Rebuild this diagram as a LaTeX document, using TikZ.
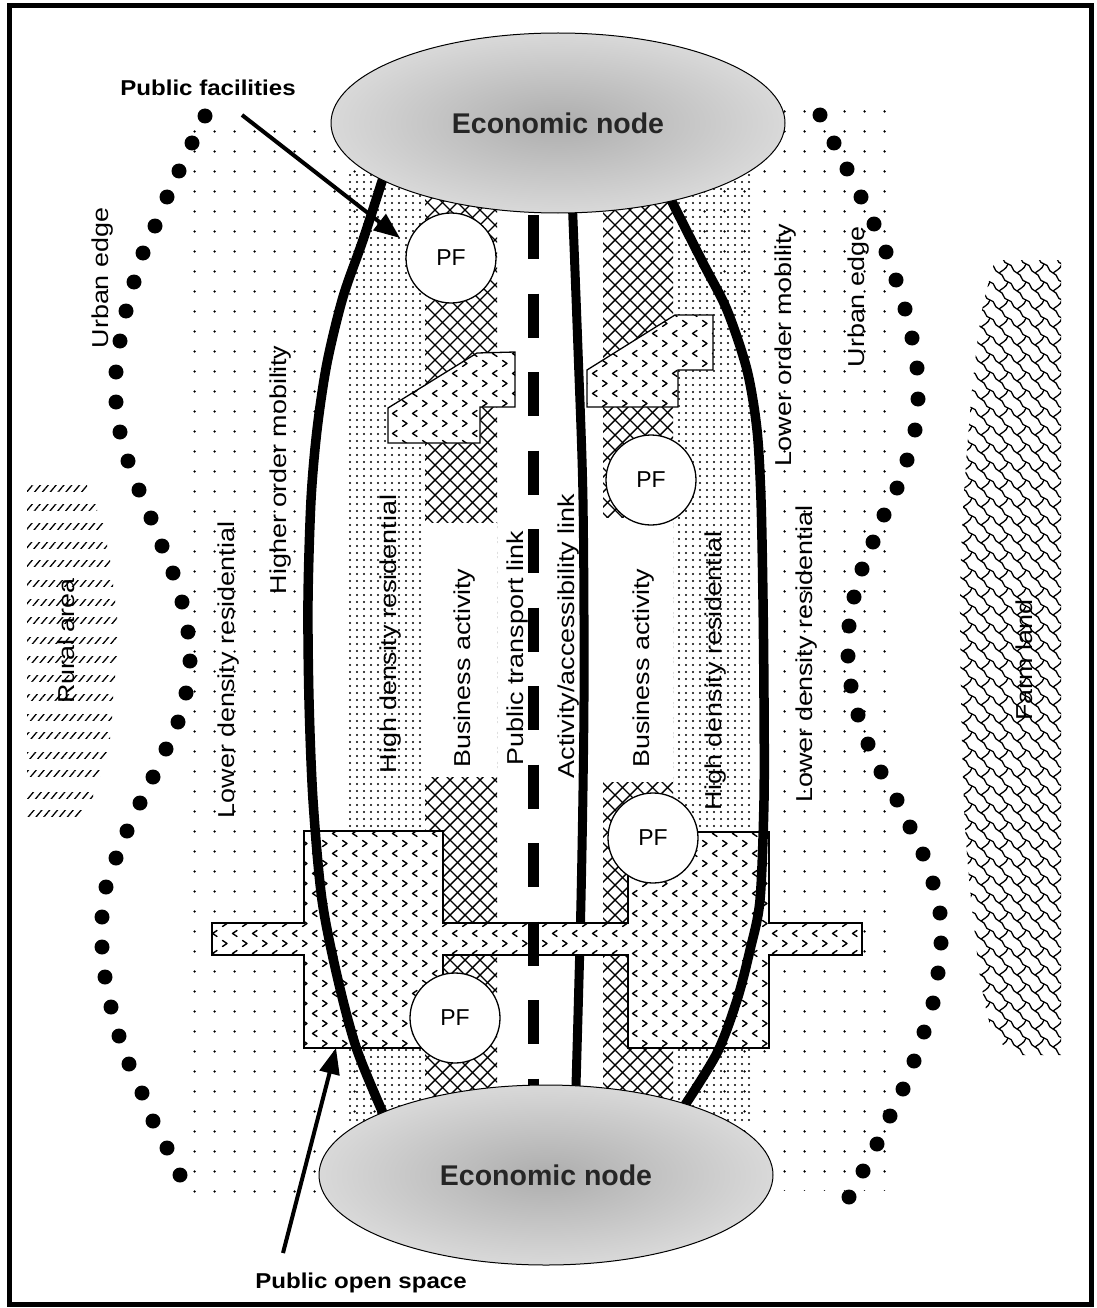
\documentclass[tikz,border=0pt]{standalone}
\usepackage{fontspec}
\setmainfont{Liberation Sans}
\newfontfamily\lab[FakeStretch=1.17]{Liberation Sans}
\newfontfamily\labb[FakeStretch=1.12]{Liberation Sans}
\usetikzlibrary{patterns,patterns.meta,arrows.meta,shapes.geometric}

\pgfdeclarepatternformonly{chev}{\pgfqpoint{-1pt}{-1pt}}{\pgfqpoint{21pt}{21pt}}{\pgfqpoint{20pt}{20pt}}{%
  \pgfsetlinewidth{1.4pt}\pgfsetroundcap\pgfsetroundjoin
  \pgfpathmoveto{\pgfqpoint{2.5pt}{1.5pt}}\pgfpathlineto{\pgfqpoint{7pt}{4.5pt}}\pgfpathlineto{\pgfqpoint{2.5pt}{7.5pt}}
  \pgfpathmoveto{\pgfqpoint{17pt}{11.5pt}}\pgfpathlineto{\pgfqpoint{12.5pt}{14.5pt}}\pgfpathlineto{\pgfqpoint{17pt}{17.5pt}}
  \pgfusepath{stroke}}

\pgfdeclarepatternformonly{farm}{\pgfqpoint{-1pt}{-1pt}}{\pgfqpoint{19pt}{19pt}}{\pgfqpoint{18pt}{18pt}}{%
  \pgfsetlinewidth{1.3pt}
  \pgfpathmoveto{\pgfqpoint{0pt}{18pt}}
  \pgfpathcurveto{\pgfqpoint{6pt}{17pt}}{\pgfqpoint{3pt}{11pt}}{\pgfqpoint{9pt}{9pt}}
  \pgfpathcurveto{\pgfqpoint{15pt}{7pt}}{\pgfqpoint{12pt}{1pt}}{\pgfqpoint{18pt}{0pt}}
  \pgfpathmoveto{\pgfqpoint{9pt}{9pt}}
  \pgfpathcurveto{\pgfqpoint{12pt}{12pt}}{\pgfqpoint{16pt}{12pt}}{\pgfqpoint{18pt}{18pt}}
  \pgfusepath{stroke}}

\tikzset{
  sparse/.style={pattern={Dots[distance=19.5pt,radius=1.3pt]}},
  dense/.style={pattern={Dots[distance=6.5pt,radius=1.3pt]}},
  hatchline/.style={line width=1.4pt},
  openspace/.style={fill=white,postaction={pattern=chev},draw=black,line width=1.3pt},
  thickcurve/.style={line width=9.5pt},
  lbl/.style={rotate=90,inner sep=0pt,font=\lab\fontsize{23}{23}\selectfont},
  pf/.style={circle,draw=black,fill=white,line width=1.3pt,minimum size=90pt,inner sep=0pt,font=\fontsize{23}{23}\selectfont},
  econ/.style={ellipse,draw=black,line width=1pt,inner color=black!32,outer color=black!15,
     minimum width=454pt,minimum height=180pt,font=\bfseries\fontsize{28.5}{28.5}\selectfont,text=black!85},
  callout/.style={inner sep=0pt,font=\labb\bfseries\fontsize{21.5}{21.5}\selectfont},
  arr/.style={line width=4pt,-{Triangle[length=26pt,width=20pt]}},
  bigdot/.style={fill=black}
}

\begin{document}
\begin{tikzpicture}[x=1pt,y=-1pt]
\useasboundingbox (0,0) rectangle (1096,1308);
\fill[white] (0,0) rectangle (1096,1308);

% lower density residential (sparse dots)
\fill[sparse] (190,123) rectangle (560,1207);
\fill[sparse] (560,107) rectangle (887,1190);

% white lens between the mobility curves
\fill[white] plot[smooth] coordinates {(384,175) (363,240) (343,297) (327,363) (317,430) (311,500) (308,600) (309,700) (313,800) (322,900) (338,980) (357,1050) (386,1120)}
  -- plot[smooth] coordinates {(683,1108) (717,1053) (737,1000) (750,950) (760,900) (764,800) (764,700) (763,600) (761,500) (757,430) (747,370) (727,310) (703,263) (667,192)} -- cycle;

% high density residential (dense dots)
\fill[dense] (349,175) rectangle (751,1125);
% central white strip
\fill[white] (497,180) rectangle (603,1120);
% business activity hatch columns
\fill[white] (425,180) rectangle (497,1118);
\fill[white] (603,180) rectangle (673,1115);
\begin{scope}
  \clip (425,180) rectangle (497,1118) (603,180) rectangle (673,1115);
  \foreach \c in {-720,-705,...,495}
    \draw[hatchline] (\c+180,180) -- (\c+1120,1120);
  \foreach \c in {600,615,...,1800}
    \draw[hatchline] (\c-180,180) -- (\c-1120,1120);
\end{scope}
% business activity white blocks
\fill[white] (425,523) rectangle (497,777);
\fill[white] (603,518) rectangle (673,782);

% activity / accessibility link
\draw[line width=9pt] plot[smooth] coordinates {(572,195) (578,350) (583,500) (584,700) (581,900) (575,1120)};

% public open spaces
\draw[openspace] (388,408) -- (477,353) -- (515,352) -- (515,407) -- (480,407) -- (480,443) -- (388,443) -- cycle;
\draw[openspace] (587,370) -- (675,315) -- (713,315) -- (713,370) -- (678,370) -- (678,407) -- (587,407) -- cycle;
\draw[openspace] (212,923) -- (304,923) -- (304,831) -- (443,831) -- (443,923) -- (628,923) -- (628,832) -- (769,832)
  -- (769,923) -- (862,923) -- (862,955) -- (769,955) -- (769,1048) -- (628,1048) -- (628,955) -- (443,955)
  -- (443,1048) -- (304,1048) -- (304,955) -- (212,955) -- cycle;

% public transport link
\draw[line width=11pt,dash pattern=on 44pt off 34.5pt] (533,215) -- (533,1125);

% mobility curves
\draw[thickcurve] plot[smooth] coordinates {(384,175) (363,240) (343,297) (327,363) (317,430) (311,500) (308,600) (309,700) (313,800) (322,900) (338,980) (357,1050) (386,1120)};
\draw[thickcurve] plot[smooth] coordinates {(683,1108) (717,1053) (737,1000) (750,950) (760,900) (764,800) (764,700) (763,600) (761,500) (757,430) (747,370) (727,310) (703,263) (667,192)};

% public facilities
\node[pf] (pf1) at (451,258) {PF};
\node[pf] (pf2) at (651,480) {PF};
\node[pf] (pf3) at (653,838) {PF};
\node[pf] (pf4) at (455,1018) {PF};

% economic nodes
\node[econ] (en1) at (558,123) {Economic node};
\node[econ] (en2) at (546,1175) {Economic node};

% rural area
\foreach \yy/\xr in {488/87,507/97,526/103,545/107,563/110,583/113,602/115,620/117,640/117,659/117,678/115,697/113,717/112,735/110,755/107,773/100,795/93,813/82}
  \fill[pattern={Lines[angle=50,distance=6pt,line width=1.3pt]}] (27,\yy-3) rectangle (\xr,\yy+3);

% farm land
\fill[pattern=farm] plot[smooth] coordinates {(995,260) (982,310) (973,380) (966,463) (962,530) (960,600) (961,700) (964,807) (968,867) (974,927) (981,983) (992,1030) (1013,1055)} -- (1061,1055) -- (1061,260) -- cycle;

% urban edge dots
\foreach \p in {(205,116),(192,143),(179,171),(167,197),(155,226),(143,253),(134,282),(126,311),(120,341),(116,372),(116,402),(120,432),(128,461),(139,490),(151,518),(162,546),(173,573),(182,602),(188,632),(190,661),(186,693),(178,722),(166,749),(153,777),(140,803),(127,831),(116,858),(106,887),(102,917),(102,947),(105,977),(111,1007),(119,1036),(129,1064),(142,1093),(153,1121),(167,1148),(180,1175)}
  \fill[bigdot] \p circle[radius=7.5pt];
\foreach \p in {(820,115),(834,143),(847,169),(861,197),(874,224),(886,252),(896,280),(905,309),(912,338),(917,368),(918,399),(915,430),(907,460),(897,488),(884,515),(873,542),(862,569),(854,597),(849,626),(848,656),(851,686),(858,715),(868,744),(881,772),(897,800),(910,827),(923,854),(933,883),(940,913),(941,943),(938,973),(933,1003),(924,1032),(914,1061),(903,1089),(890,1116),(877,1144),(863,1171),(849,1197)}
  \fill[bigdot] \p circle[radius=7.5pt];

% labels
\node[lbl] (t1) at (103,278) {Urban edge};
\node[lbl] (t2) at (281,470) {Higher order mobility};
\node[lbl] (t3) at (229,670) {Lower density residential};
\node[lbl] (t4) at (66,641) {Rural area};
\node[lbl] (t5) at (391,634) {High density residential};
\node[lbl] (t6) at (465,668) {Business activity};
\node[lbl] (t7) at (518,648) {Public transport link};
\node[lbl] (t8) at (569,636) {Activity/accessibility link};
\node[lbl] (t9) at (644,668) {Business activity};
\node[lbl] (t10) at (716,671) {High density residential};
\node[lbl] (t11) at (807,654) {Lower density residential};
\node[lbl] (t12) at (786,345) {Lower order mobility};
\node[lbl] (t13) at (859,297) {Urban edge};
\node[lbl] (t14) at (1024,660) {Farm land};

% callouts
\node[callout] (cpf) at (208,88) {Public facilities};
\node[callout] (cpos) at (361,1283) {Public open space};
\coordinate (a1s) at (242,115);
\coordinate (a1e) at (400,238);
\draw[arr] (a1s) -- (a1e);
\coordinate (a2s) at (283,1253);
\coordinate (a2e) at (336,1048);
\draw[arr] (a2s) -- (a2e);

% frame
\draw[line width=5pt] (9,6) rectangle (1091,1304);
\end{tikzpicture}
\end{document}
